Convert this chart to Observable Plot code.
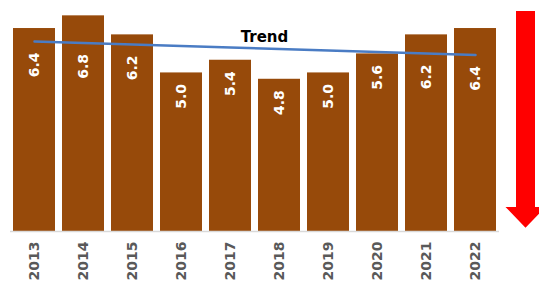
<!DOCTYPE html>
<html><head><meta charset="utf-8">
<script src="https://cdn.jsdelivr.net/npm/d3@7"></script>
<script src="https://cdn.jsdelivr.net/npm/@observablehq/plot@0.6"></script>
<style>body{margin:0;background:#fff}</style>
</head><body><div id="chart"></div>
<script>
const years = ["2013","2014","2015","2016","2017","2018","2019","2020","2021","2022"];
const values = [6.4, 6.8, 6.2, 5.0, 5.4, 4.8, 5.0, 5.6, 6.2, 6.4];
const trendLabel = "Trend";

// least-squares trend through the bar values
const idx = d3.range(values.length);
const mx = d3.mean(idx), my = d3.mean(values);
const slope = d3.sum(idx, i => (i - mx) * (values[i] - my)) / d3.sum(idx, i => (i - mx) ** 2);
const trend = idx.map(i => my + slope * (i - mx));
const data = years.map((year, i) => ({year, value: values[i], trend: trend[i]}));

const plot = Plot.plot({
  width: 539, height: 286,
  marginTop: 9, marginBottom: 55, marginLeft: 6, marginRight: 36,
  style: {fontFamily: "DejaVu Sans", fontSize: "14px", fontWeight: "bold", color: "#595959", background: "#fff"},
  x: {domain: years, paddingInner: 0.14, paddingOuter: 0.14, tickRotate: -90, tickSize: 0, tickPadding: 10, label: null},
  y: {domain: [0, 7], axis: null},
  marks: [
    Plot.barY(data, {x: "year", y: "value", fill: "#974A0A"}),
    Plot.ruleY([0], {stroke: "#d9d9d9", strokeWidth: 1.5, insetLeft: 4, insetRight: 4}),
    Plot.line(data, {x: "year", y: "trend", stroke: "#4A7CC4", strokeWidth: 2.5}),
    Plot.text(data, {x: "year", y: d => Math.min(d.value, d.trend), text: d => d.value.toFixed(1),
      rotate: -90, textAnchor: "end", dy: 11, fill: "white", fontSize: 14, fontWeight: "bold"}),
    Plot.text([data[5]], {x: "year", y: "trend", text: () => trendLabel, dx: -15, dy: -12,
      fill: "black", fontSize: 15, fontWeight: "bold"})
  ]
});

// red down arrow decoration at right, positioned from the y scale
const ys = plot.scale("y");
const cx = 539 - 13.5, sh = 9.5, hh = 20;
const yTop = ys.apply(6.94), yHead = ys.apply(0.76), yTip = ys.apply(0.1);
d3.select(plot).append("path")
  .attr("d", `M${cx-sh},${yTop}L${cx+sh},${yTop}L${cx+sh},${yHead}L${cx+hh},${yHead}L${cx},${yTip}L${cx-hh},${yHead}L${cx-sh},${yHead}Z`)
  .attr("fill", "#ff0000");

document.getElementById("chart").append(plot);
</script>
</body></html>
